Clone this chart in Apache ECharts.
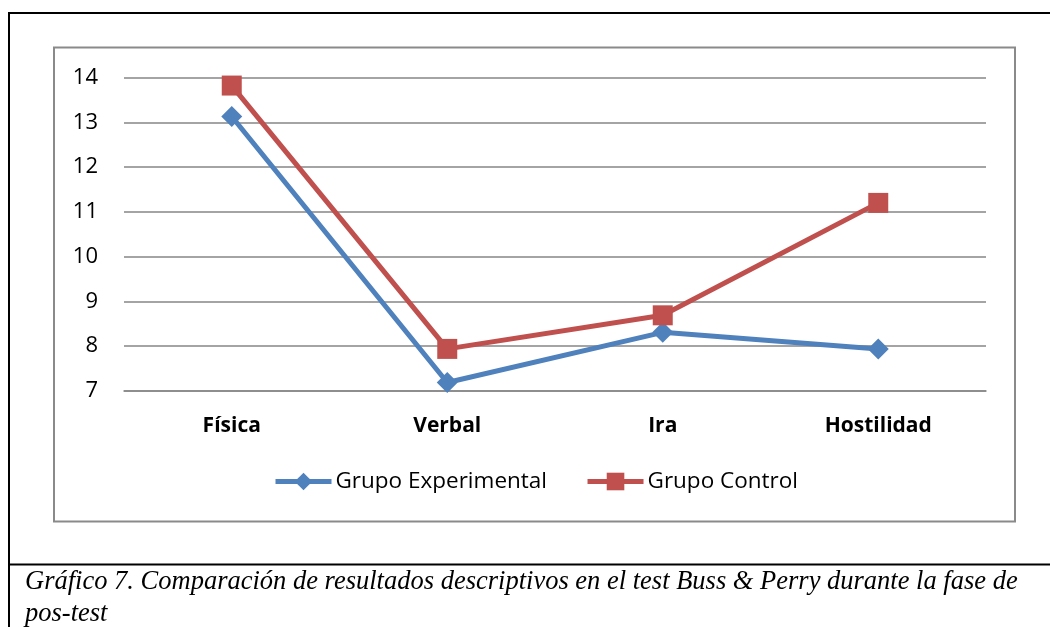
<!DOCTYPE html>
<html><head><meta charset="utf-8">
<script src="https://cdn.jsdelivr.net/npm/echarts@6/dist/echarts.min.js"></script>
<style>html,body{margin:0;padding:0;background:#fff}#c{width:1050px;height:627px}</style>
</head><body><div id="c"></div>
<script>
const categories = ['Física', 'Verbal', 'Ira', 'Hostilidad'];
const experimental = [13.13, 7.19, 8.31, 7.94];
const control = [13.82, 7.94, 8.69, 11.2];
const seriesNames = ['Grupo Experimental', 'Grupo Control'];
const captionLines = ['Gráfico 7. Comparación de resultados descriptivos en el test Buss & Perry durante la fase de', 'pos-test'];

const chart = echarts.init(document.getElementById('c'), null, {renderer: 'canvas'});
const font = "'Open Sans', 'Noto Sans', sans-serif";
chart.setOption({
  animation: false,
  backgroundColor: '#fff',
  grid: {left: 124, right: 64, top: 77.5, bottom: 236, containLabel: false},
  xAxis: {
    type: 'category', data: categories, boundaryGap: true,
    axisLine: {lineStyle: {color: '#868686', width: 1.5}},
    axisTick: {show: false},
    axisLabel: {color: '#000', fontSize: 21, fontWeight: 'bold', fontFamily: font, margin: 25}
  },
  yAxis: {
    type: 'value', min: 7, max: 14, interval: 1,
    axisLine: {show: false}, axisTick: {show: false},
    axisLabel: {color: '#000', fontSize: 22, fontFamily: font, margin: 26},
    splitLine: {lineStyle: {color: '#868686', width: 1.5}}
  },
  legend: {
    top: 465, left: 268, itemWidth: 56, itemHeight: 22, itemGap: 38,
    lineStyle: {width: 5},
    textStyle: {color: '#000', fontSize: 22.5, fontFamily: font, padding: [0, 0, 0, -1]},
    data: seriesNames
  },
  series: [
    {name: seriesNames[0], type: 'line', data: experimental, symbol: 'diamond', symbolSize: 21,
     itemStyle: {color: '#4F81BD'}, lineStyle: {color: '#4F81BD', width: 5}},
    {name: seriesNames[1], type: 'line', data: control, symbol: 'rect', symbolSize: 20,
     itemStyle: {color: '#C0504D'}, lineStyle: {color: '#C0504D', width: 5}}
  ],
  graphic: [
    {type: 'rect', shape: {x: 54, y: 47.5, width: 961, height: 474}, style: {fill: null, stroke: '#8a8a8a', lineWidth: 2}, z: -1},
    {type: 'line', shape: {x1: 9, y1: 13, x2: 1050, y2: 13}, style: {stroke: '#000', lineWidth: 2}},
    {type: 'line', shape: {x1: 9, y1: 12, x2: 9, y2: 627}, style: {stroke: '#000', lineWidth: 2}},
    {type: 'line', shape: {x1: 9, y1: 564.5, x2: 1050, y2: 564.5}, style: {stroke: '#000', lineWidth: 2}},
    {type: 'text', style: {x: 25, y: 582, verticalAlign: 'middle', text: captionLines[0], fill: '#000', font: "italic 26.5px 'Liberation Serif', serif"}},
    {type: 'text', style: {x: 25, y: 614, verticalAlign: 'middle', text: captionLines[1], fill: '#000', font: "italic 26.5px 'Liberation Serif', serif"}}
  ]
});
</script></body></html>
